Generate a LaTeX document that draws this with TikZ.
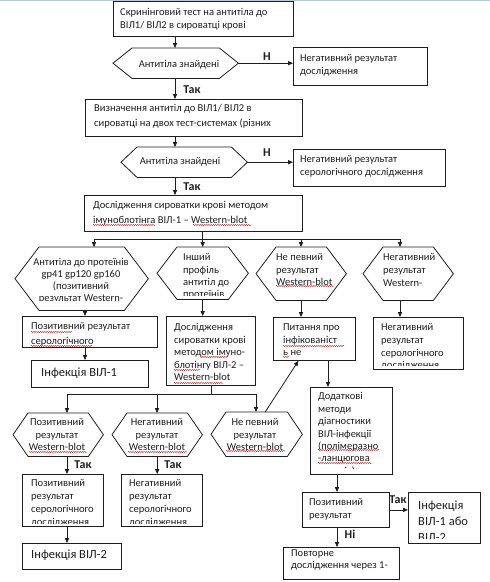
\documentclass[tikz,border=0pt]{standalone}
\usepackage{fontspec}
\setmainfont{Carlito}
\usetikzlibrary{arrows.meta,decorations.pathmorphing,calc}
\definecolor{topline}{RGB}{184,200,216}
\definecolor{ink}{RGB}{30,30,30}
\definecolor{squigred}{RGB}{210,40,40}
\tikzset{
  line/.style={draw=ink, line width=0.8pt},
  arr/.style={line, -{Triangle[length=5pt,width=4.2pt]}},
  box/.style={rectangle, draw=ink, line width=0.8pt, inner sep=0pt, anchor=north west},
  hexbb/.style={rectangle, draw=none, inner sep=0pt, anchor=north west},
  txt/.style={anchor=north west, align=left, inner sep=0pt, text=ink,
              font=\fontsize{10.5}{12.8}\selectfont},
  ctxt/.style={txt, anchor=north, align=center},
  big/.style={font=\fontsize{12.5}{16}\selectfont},
  lbl/.style={inner sep=0pt, text=ink, font=\bfseries\fontsize{12}{14}\selectfont},
  squig/.style={draw=squigred, line width=0.45pt, decorate,
                decoration={snake,amplitude=0.6pt,segment length=2.2pt}}
}
\newcommand\mkbox[5]{\node[box, minimum width={(#4)-(#2)}, minimum height={(#5)-(#3)}] (#1) at (#2,#3) {};}
\newcommand\mkhex[6]{%
  \node[hexbb, minimum width={(#4)-(#2)}, minimum height={(#5)-(#3)}] (#1) at (#2,#3) {};
  \draw[line] (#1.west) -- ([xshift=#6]#1.north west) -- ([xshift=-#6]#1.north east)
     -- (#1.east) -- ([xshift=-#6]#1.south east) -- ([xshift=#6]#1.south west) -- cycle;}
\newcommand\btext[4][]{\begin{scope}\clip ([shift={(0.8,0.8)}]#2.north west) rectangle ([shift={(-0.8,-0.8)}]#2.south east);
  \node[txt,#1] (t-#2) at (#3) {#4};\end{scope}}
\newcommand\ctext[5][]{\begin{scope}\clip #3;
  \node[txt,#1] (t-#2) at (#4) {#5};\end{scope}}
\begin{document}
\begin{tikzpicture}[x=1pt,y=-1pt]
\useasboundingbox (0,0) rectangle (490,582);
\fill[white] (0,0) rectangle (490,582);
\draw[topline, line width=1.2pt] (0,0.6) -- (490,0.6);

% columns and buses
\coordinate (col) at (175,0);
\coordinate (colA) at (85,0);
\coordinate (colE) at (67,0);
\coordinate (colH) at (328,0);
\coordinate (colI) at (337,0);
\coordinate (busL) at (94,239);
\coordinate (busC) at (301,239);
\coordinate (busR) at (400,239);
\coordinate (bus2L) at (67,394);
\coordinate (bus2M) at (157,394);
\coordinate (bus2R) at (256,394);

% ---- top part
\mkbox{b1}{113}{1}{293}{36}
\btext{b1}{120,8}{Скринінговий тест на антитіла до\\ВІЛ1/ ВІЛ2 в сироватці крові}
\mkhex{d1}{113}{48}{238}{78}{19}
\node[txt, anchor=center] (t-d1) at (179,64.5) {Антитіла знайдені};
\mkbox{n1}{293}{47}{427}{85}
\btext{n1}{300,54}{Негативний результат\\дослідження}
\mkbox{b2}{85}{99}{302}{136}
\btext[font=\fontsize{10.5}{14.7}\selectfont]{b2}{94,104}{Визначення антитіл до ВІЛ1/ ВІЛ2 в\\сироватці на двох тест-системах (різних}
\mkhex{d2}{121}{147}{247}{177}{16}
\node[txt, anchor=center] (t-d2) at (180,161.5) {Антитіла знайдені};
\mkbox{n2}{293}{149}{445}{186}
\btext{n2}{300,155}{Негативний результат\\серологічного дослідження}
\mkbox{b3}{84}{195}{302}{231}
\btext[font=\fontsize{10.5}{14.7}\selectfont]{b3}{93,201}{Дослідження сироватки крові методом\\імуноблотінга ВІЛ-1 – Western-blot}

\draw[arr] (b1.south -| col) -- (d1.north -| col);
\draw[arr] (d1.east) -- (d1.east -| n1.west);
\node[lbl] (l1) at (267,57) {Н};
\draw[arr] (d1.south -| col) -- (b2.north -| col);
\node[lbl] (l2) at (192,90) {Так};
\draw[arr] (b2.south -| col) -- (d2.north -| col);
\draw[arr] (d2.east) -- (d2.east -| n2.west);
\node[lbl] (l3) at (267,153) {Н};
\draw[arr] (d2.south -| col) -- (b3.north -| col);
\node[lbl] (l4) at (192,187) {Так};

% ---- first hexagon row
\mkhex{hA}{15}{247}{148}{310}{24}
\ctext[ctxt, font=\fontsize{10.5}{12}\selectfont]{hA}{(10,247) rectangle (160,300)}{81,258.5}{Антитіла до протеїнів\\gp41 gp120 gp160\\(позитивний\\результат Western-}
\mkhex{hB}{157}{247}{248}{299}{20}
\ctext[font=\fontsize{10.5}{12.4}\selectfont]{hB}{(150,247) rectangle (250,295)}{183,253.5}{Інший\\профіль\\антитіл до\\протеїнів}
\mkhex{hC}{256}{247}{346}{300}{20}
\ctext[font=\fontsize{10.5}{12.5}\selectfont]{hC}{(250,247) rectangle (350,299)}{276,253.5}{Не певний\\результат\\Western-blot}
\mkhex{hD}{363}{247}{453}{300}{20}
\ctext[font=\fontsize{10.5}{13}\selectfont]{hD}{(360,247) rectangle (460,286.5)}{383,253.5}{Негативний\\результат\\Western-}

\draw[line] (busL) -- (busR);
\draw[arr] (b3.south -| hB.north) -- (hB.north);
\draw[arr] (busL) -- (busL |- hA.north);
\draw[arr] (busC) -- (busC |- hC.north);
\draw[arr] (busR) -- (busR |- hD.north);

% ---- second row boxes
\mkbox{bA1}{22}{316}{157}{347}
\btext[font=\fontsize{10.5}{14.5}\selectfont]{bA1}{31,322.5}{Позитивний результат\\серологічного}
\mkbox{bA2}{31}{360}{148}{387}
\node[txt, big, anchor=west] (t-bA2) at (41,373) {Інфекція ВІЛ-1};
\mkbox{bB1}{166}{316}{255}{385}
\btext[font=\fontsize{10.5}{12.5}\selectfont]{bB1}{174,323.5}{Дослідження\\сироватки крові\\методом імуно-\\блотінгу ВІЛ-2 –\\Western-blot}
\mkbox{bC1}{273}{317}{355}{360}
\btext[font=\fontsize{10.5}{12.6}\selectfont]{bC1}{283,323.5}{Питання про\\інфікованіст\\ь не}
\mkbox{bD1}{373}{317}{463}{369}
\ctext[font=\fontsize{10.5}{12.7}\selectfont]{bD1}{(373,317) rectangle (463,365)}{381,323.5}{Негативний\\результат\\серологічного\\дослідження}

\draw[arr] (hA.south -| colA) -- (bA1.north -| colA);
\draw[arr] (bA1.south -| colA) -- (bA2.north -| colA);
\draw[arr] (hB.south) -- (hB.south |- bB1.north);
\draw[arr] (busC |- hC.south) -- (busC |- bC1.north);
\draw[arr] (busR |- hD.south) -- (busR |- bD1.north);

% ---- lower part
\draw[line] (bB1.south) -- (bB1.south |- bus2L);
\draw[line] (bus2L) -- (bus2R);
\mkhex{hE}{13}{413}{103}{456}{15}
\node[ctxt, font=\fontsize{10.5}{12.5}\selectfont] (t-hE) at (57,418.5) {Позитивний\\результат\\Western-blot};
\mkhex{hF}{112}{413}{202}{456}{15}
\node[ctxt, font=\fontsize{10.5}{12.5}\selectfont] (t-hF) at (157,418.5) {Негативний\\результат\\Western-blot};
\mkhex{hG}{211}{412}{302}{456}{15}
\node[ctxt, font=\fontsize{10.5}{12.5}\selectfont] (t-hG) at (255,418.5) {Не певний\\результат\\Western-blot};
\draw[arr] (bus2L) -- (bus2L |- hE.north);
\draw[arr] (bus2M) -- (bus2M |- hF.north);
\draw[arr] (bus2R) -- (bus2R |- hG.north);

\mkbox{bE1}{22}{474}{103}{526}
\ctext[font=\fontsize{10.5}{13}\selectfont]{bE1}{(22,474) rectangle (103,523)}{31,479.5}{Позитивний\\результат\\серологічного\\дослідження}
\mkbox{bE2}{22}{543}{121}{569}
\node[txt, big, anchor=west] (t-bE2) at (31,555.5) {Інфекція ВІЛ-2};
\mkbox{bF1}{121}{474}{202}{526}
\ctext[font=\fontsize{10.5}{13}\selectfont]{bF1}{(121,474) rectangle (202,523)}{129,479.5}{Негативний\\результат\\серологічного\\дослідження}

\draw[arr] (hE.south -| colE) -- (bE1.north -| colE);
\node[lbl] (l5) at (83,465) {Так};
\draw[arr] (bE1.south -| colE) -- (bE2.north -| colE);
\draw[arr] (hF.south) -- (hF.south |- bF1.north);
\node[lbl] (l6) at (173,465) {Так};
\draw[arr] ([xshift=8.5]hG.north) -- ([xshift=-16]bC1.south);

\mkbox{bH}{310}{387}{392}{474}
\ctext[font=\fontsize{10.5}{12.4}\selectfont]{bH}{(310,387) rectangle (392,468.8)}{318,392.5}{Додаткові\\методи\\діагностики\\ВІЛ-інфекції\\(полімеразно\\-ланцюгова\\реакція)}
\mkbox{bI}{302}{492}{389}{527}
\btext[font=\fontsize{10.5}{13}\selectfont]{bI}{309,498.5}{Позитивний\\результат}
\mkbox{bJ}{408}{492}{480}{543}
\ctext[big]{bJ}{(408,492) rectangle (480,538)}{418,500.5}{Інфекція\\ВІЛ-1 або\\ВІЛ-2}
\mkbox{bK}{283}{547}{399}{579}
\btext[font=\fontsize{10.5}{12.3}\selectfont]{bK}{291,549.5}{Повторне\\дослідження через 1-}

\draw[arr] (bC1.south -| colH) -- (bH.north -| colH);
\draw[arr] (bH.south -| colI) -- (bI.north -| colI);
\draw[arr] (bI.east) -- (bI.east -| bJ.west);
\node[lbl] (l7) at (398,500) {Так};
\draw[arr] (bI.south -| colI) -- (bK.north -| colI);
\node[lbl] (l8) at (350,534) {Ні};

% ---- spell-check squiggles
\draw[squig] (93,225) -- (155,225);
\draw[squig] (193,225) -- (251,225);
\draw[squig] (31,332) -- (72,332);
\draw[squig] (31,346) -- (92,346);
\draw[squig] (200,357) -- (228,357);
\draw[squig] (174,370) -- (200,370);
\draw[squig] (174,383) -- (223,383);
\draw[squig] (283,346) -- (344,346);
\draw[squig] (283,357) -- (289,357);
\draw[squig] (276,286) -- (334,286);
\draw[squig] (29,452) -- (87,452);
\draw[squig] (128,452) -- (187,452);
\draw[squig] (226,451) -- (285,451);
\draw[squig] (318,450) -- (379,450);
\draw[squig] (318,463) -- (372,463);
\end{tikzpicture}
\end{document}
